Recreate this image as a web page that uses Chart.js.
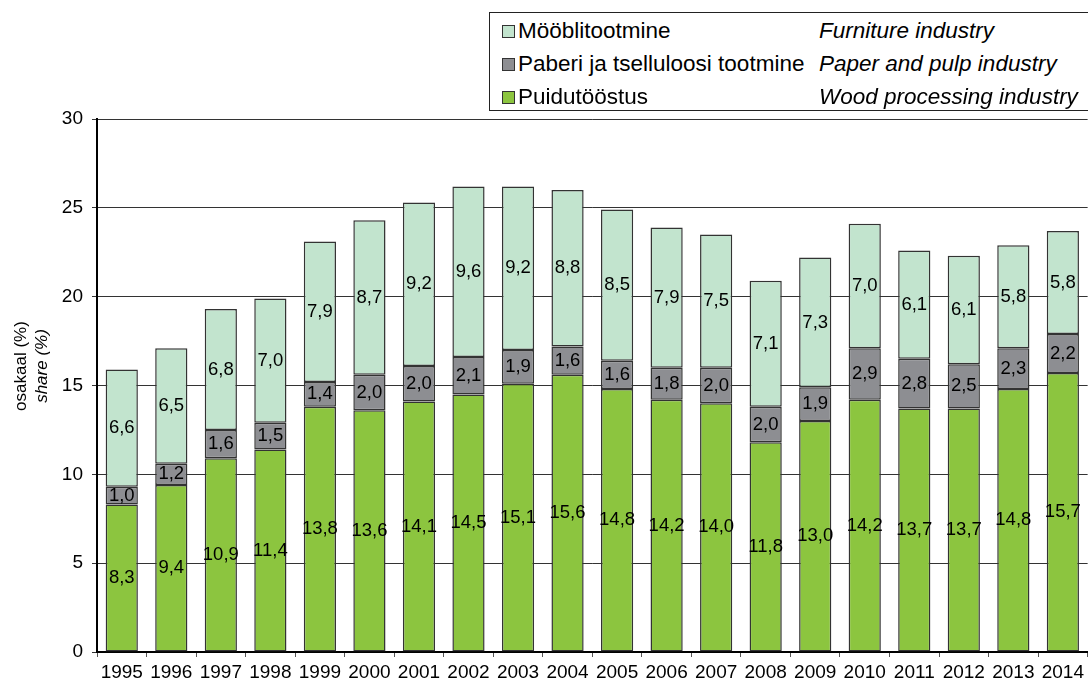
<!DOCTYPE html>
<html>
<head>
<meta charset="utf-8">
<script src="https://cdn.jsdelivr.net/npm/chart.js@4"></script>
<style>
  body { margin: 0; background: #fff; font-family: "Liberation Sans", Arial, sans-serif; }
  #wrap { position: relative; width: 1088px; height: 682px; overflow: hidden; }
  #legend {
    position: absolute; left: 489px; top: 12px; width: 640px; height: 99px;
    border: 1px solid #222; background: #fff; box-sizing: border-box;
    font-size: 22.5px; color: #000;
  }
  .row { position: absolute; left: 0; height: 33px; line-height: 33px; white-space: nowrap; }
  .box { position: absolute; left: 12px; top: 11px; width: 11px; height: 11px; border: 1px solid #333; }
  .et { position: absolute; left: 28px; }
  .en { position: absolute; left: 329px; font-style: italic; }
</style>
</head>
<body>
<div id="wrap">
  <canvas id="barChart"></canvas>
  <div id="legend"></div>
</div>
<script>
// data
const years = ["1995","1996","1997","1998","1999","2000","2001","2002","2003","2004",
               "2005","2006","2007","2008","2009","2010","2011","2012","2013","2014"];
const wood      = [8.3, 9.4, 10.9, 11.4, 13.8, 13.6, 14.1, 14.5, 15.1, 15.6, 14.8, 14.2, 14.0, 11.8, 13.0, 14.2, 13.7, 13.7, 14.8, 15.7];
const paper     = [1.0, 1.2, 1.6, 1.5, 1.4, 2.0, 2.0, 2.1, 1.9, 1.6, 1.6, 1.8, 2.0, 2.0, 1.9, 2.9, 2.8, 2.5, 2.3, 2.2];
const furniture = [6.6, 6.5, 6.8, 7.0, 7.9, 8.7, 9.2, 9.6, 9.2, 8.8, 8.5, 7.9, 7.5, 7.1, 7.3, 7.0, 6.1, 6.1, 5.8, 5.8];

const namesEt = ["Mööblitootmine", "Paberi ja tselluloosi tootmine", "Puidutööstus"];
const namesEn = ["Furniture industry", "Paper and pulp industry", "Wood processing industry"];
const colors  = ["#c2e4ce", "#8d8e92", "#8cc53f"];

const FONT = '"Liberation Sans", Arial, sans-serif';

// legend (html, two columns)
const legend = document.getElementById("legend");
for (let i = 0; i < 3; i++) {
    const row = document.createElement("div");
    row.className = "row";
    row.style.top = (1 + i * 33) + "px";
    row.innerHTML = '<span class="box" style="background:' + colors[i] + '"></span>' +
        '<span class="et">' + namesEt[i] + '</span><span class="en">' + namesEn[i] + '</span>';
    legend.appendChild(row);
}

// value labels inside the segments
const segLabels = {
    id: "segLabels",
    afterDatasetsDraw(chart) {
        const ctx = chart.ctx;
        ctx.save();
        ctx.font = "18.5px " + FONT;
        ctx.fillStyle = "#000";
        ctx.textAlign = "center";
        ctx.textBaseline = "middle";
        chart.data.datasets.forEach((ds, di) => {
            chart.getDatasetMeta(di).data.forEach((bar, i) => {
                const txt = ds.data[i].toFixed(1).replace(".", ",");
                ctx.fillText(txt, bar.x, (bar.y + bar.base) / 2);
            });
        });
        ctx.restore();
    }
};

// y axis title, two lines with different styles
const yTitle = {
    id: "yTitle",
    afterDraw(chart) {
        const ctx = chart.ctx;
        ctx.save();
        ctx.translate(21, 366);
        ctx.rotate(-Math.PI / 2);
        ctx.fillStyle = "#000";
        ctx.textAlign = "center";
        ctx.textBaseline = "middle";
        ctx.font = "17px " + FONT;
        ctx.fillText("osakaal (%)", 0, 0);
        ctx.font = "italic 17px " + FONT;
        ctx.fillText("share (%)", 0, 21);
        ctx.restore();
    }
};

new Chart("barChart", {
    type: "bar",
    data: {
        labels: years,
        datasets: [
            { label: namesEt[2], data: wood,      backgroundColor: colors[2] },
            { label: namesEt[1], data: paper,     backgroundColor: colors[1] },
            { label: namesEt[0], data: furniture, backgroundColor: colors[0] }
        ].map(d => Object.assign(d, {
            borderColor: "#333",
            borderWidth: 1.5,
            borderSkipped: false,
            categoryPercentage: 1,
            barPercentage: 0.65
        }))
    },
    options: {
        responsive: true,
        maintainAspectRatio: false,
        animation: false,
        layout: { padding: { top: 119, left: 0, right: 0, bottom: 0 } },
        plugins: {
            legend: { display: false },
            tooltip: { enabled: false }
        },
        scales: {
            x: {
                stacked: true,
                grid: { drawOnChartArea: false, offset: true, tickLength: 5, color: "#555" },
                border: { color: "#000", width: 2 },
                ticks: { color: "#000", font: { size: 19, family: FONT }, padding: 4, maxRotation: 0, autoSkip: false },
                afterFit: s => { s.height = 30; }
            },
            y: {
                stacked: true,
                min: 0,
                max: 30,
                grid: { color: "#333", tickLength: 5 },
                border: { color: "#000", width: 2 },
                ticks: { stepSize: 5, color: "#000", font: { size: 19, family: FONT }, padding: 9 },
                afterFit: s => { s.width = 97; }
            }
        }
    },
    plugins: [segLabels, yTitle]
});
</script>
</body>
</html>
